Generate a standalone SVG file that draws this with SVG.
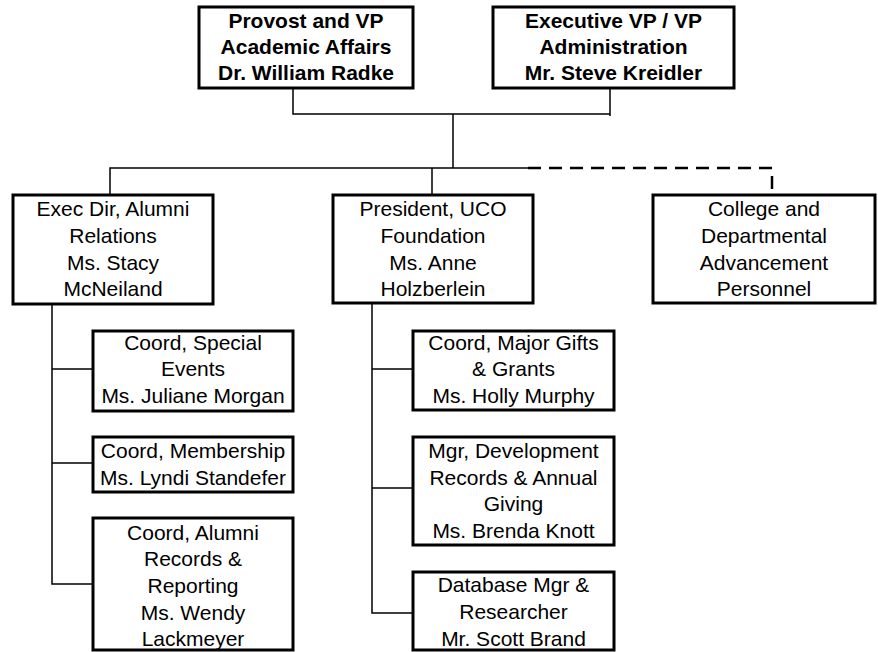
<svg xmlns="http://www.w3.org/2000/svg" width="878" height="652" viewBox="0 0 878 652">
<style>
.box{fill:#fff;stroke:#000;stroke-width:3}
.t{font-family:"Liberation Sans",Arial,sans-serif;font-size:21px;fill:#000;text-anchor:middle}
.b{font-weight:bold}
.c{fill:none;stroke:#000;stroke-width:1.5}
.d{fill:none;stroke:#000;stroke-width:2.5;stroke-dasharray:13 8}
</style>
<rect width="878" height="652" fill="#fff"/>
<g id="connectors">
<path class="c" d="M293,88 V114 H610 V88 M610,114 V116"/>
<path class="c" d="M453,114 V168 M110,195 V168 H528 M432,168 V195"/>
<path class="d" d="M528,168 H772 V195"/>
<path class="c" d="M52,304 V584 H93 M52,369 H93 M52,463 H93"/>
<path class="c" d="M372,303 V613 H413 M372,369 H413 M372,488 H413"/>
</g>
<g id="provost">
<rect class="box" x="199" y="7" width="214" height="81"/>
<text class="t b" x="306" y="28">Provost and VP</text>
<text class="t b" x="306" y="54">Academic Affairs</text>
<text class="t b" x="306" y="80">Dr. William Radke</text>
</g>
<g id="executive-vp">
<rect class="box" x="493" y="7" width="241" height="81"/>
<text class="t b" x="613.5" y="28">Executive VP / VP</text>
<text class="t b" x="613.5" y="54">Administration</text>
<text class="t b" x="613.5" y="80">Mr. Steve Kreidler</text>
</g>
<g id="alumni-relations">
<rect class="box" x="13" y="195" width="200" height="109"/>
<text class="t" x="113" y="216">Exec Dir, Alumni</text>
<text class="t" x="113" y="243">Relations</text>
<text class="t" x="113" y="270">Ms. Stacy</text>
<text class="t" x="113" y="296">McNeiland</text>
</g>
<g id="foundation">
<rect class="box" x="333" y="195" width="200" height="108"/>
<text class="t" x="433" y="216">President, UCO</text>
<text class="t" x="433" y="243">Foundation</text>
<text class="t" x="433" y="270">Ms. Anne</text>
<text class="t" x="433" y="296">Holzberlein</text>
</g>
<g id="college-personnel">
<rect class="box" x="653" y="195" width="222" height="108"/>
<text class="t" x="764" y="216">College and</text>
<text class="t" x="764" y="243">Departmental</text>
<text class="t" x="764" y="270">Advancement</text>
<text class="t" x="764" y="296">Personnel</text>
</g>
<g id="special-events">
<rect class="box" x="93" y="331" width="200" height="80"/>
<text class="t" x="193" y="350">Coord, Special</text>
<text class="t" x="193" y="376">Events</text>
<text class="t" x="193" y="403">Ms. Juliane Morgan</text>
</g>
<g id="membership">
<rect class="box" x="93" y="437" width="200" height="55"/>
<text class="t" x="193" y="458">Coord, Membership</text>
<text class="t" x="193" y="485">Ms. Lyndi Standefer</text>
</g>
<g id="alumni-records">
<rect class="box" x="93" y="518" width="200" height="132"/>
<text class="t" x="193" y="540">Coord, Alumni</text>
<text class="t" x="193" y="566">Records &amp;</text>
<text class="t" x="193" y="593">Reporting</text>
<text class="t" x="193" y="620">Ms. Wendy</text>
<text class="t" x="193" y="646">Lackmeyer</text>
</g>
<g id="major-gifts">
<rect class="box" x="413" y="331" width="201" height="79"/>
<text class="t" x="513.5" y="350">Coord, Major Gifts</text>
<text class="t" x="513.5" y="376">&amp; Grants</text>
<text class="t" x="513.5" y="403">Ms. Holly Murphy</text>
</g>
<g id="development-records">
<rect class="box" x="413" y="437" width="201" height="108"/>
<text class="t" x="513.5" y="458">Mgr, Development</text>
<text class="t" x="513.5" y="485">Records &amp; Annual</text>
<text class="t" x="513.5" y="511">Giving</text>
<text class="t" x="513.5" y="538">Ms. Brenda Knott</text>
</g>
<g id="database-mgr">
<rect class="box" x="413" y="572" width="201" height="78"/>
<text class="t" x="513.5" y="592">Database Mgr &amp;</text>
<text class="t" x="513.5" y="619">Researcher</text>
<text class="t" x="513.5" y="646">Mr. Scott Brand</text>
</g>
</svg>
